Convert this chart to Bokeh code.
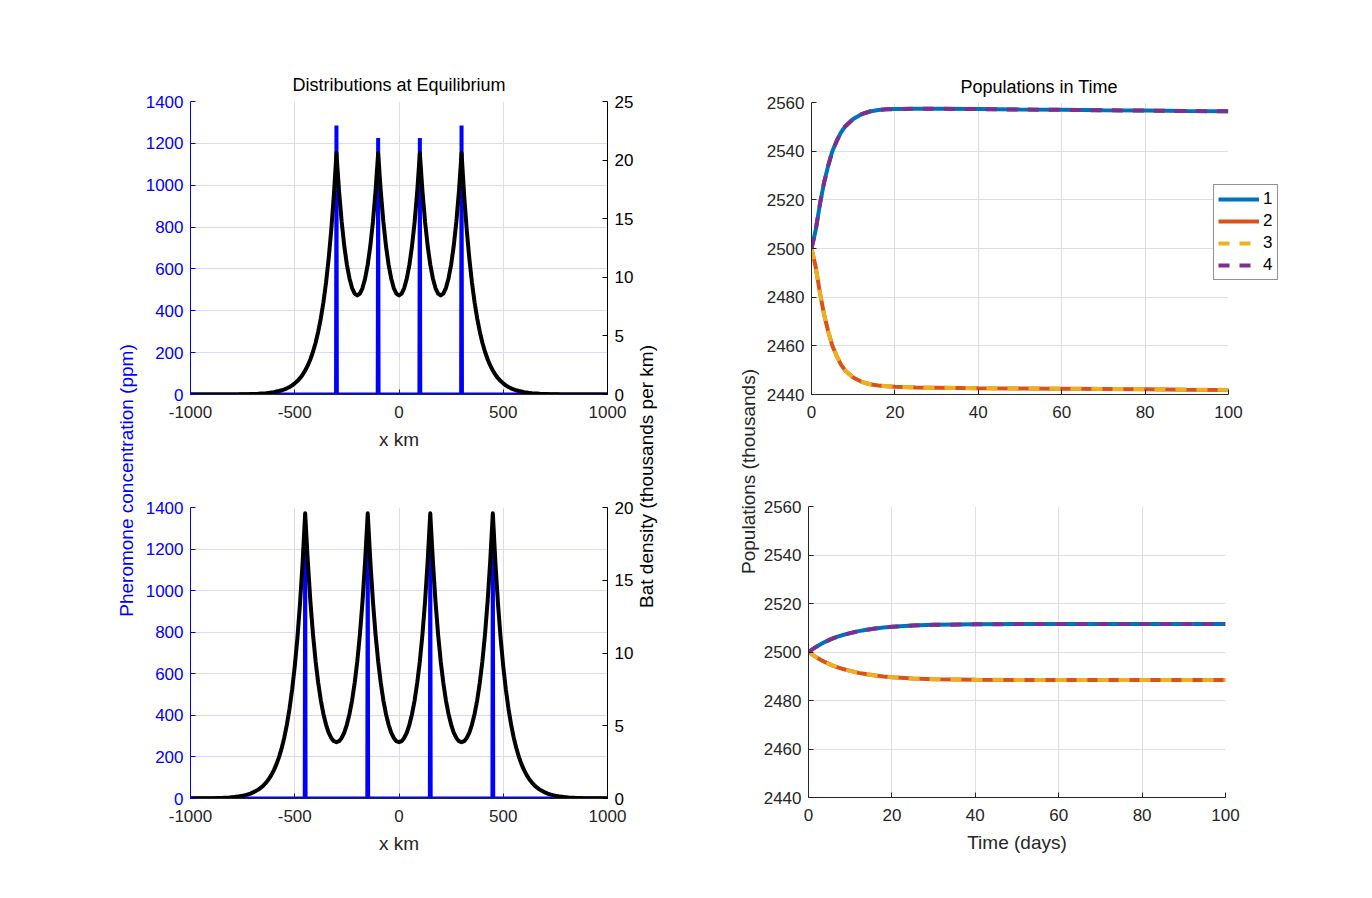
import math
from bokeh.plotting import figure
from bokeh.models import Range1d, LinearAxis, FixedTicker, Label, Legend
from bokeh.layouts import row, column
from bokeh.embed import file_html
from bokeh.resources import INLINE

# ---------------- data ----------------
bat_x = [i * 12.5 for i in range(-80, 81)]

bat_top = [0.00, 0.00, 0.00, 0.00, 0.00, 0.00, 0.00, 0.00, 0.00, 0.00, 0.00, 0.00, 0.00,
           0.01, 0.01, 0.01, 0.01, 0.01, 0.01, 0.02, 0.02, 0.02, 0.03, 0.04, 0.04, 0.05, 0.06,
           0.08, 0.09, 0.11, 0.14, 0.17, 0.20, 0.25, 0.30, 0.36, 0.44, 0.53, 0.64, 0.78, 0.95,
           1.15, 1.39, 1.69, 2.05, 2.48, 3.01, 3.65, 4.42, 5.36, 6.49, 7.87, 9.54, 11.57, 14.02,
           16.99, 20.6,
           17.35, 14.74, 12.68, 11.08, 9.90, 9.08, 8.61, 8.45, 8.61, 9.08, 9.90, 11.08, 12.68,
           14.74, 17.35, 20.6,
           17.35, 14.74, 12.68, 11.08, 9.90, 9.08, 8.61, 8.45,
           8.61, 9.08, 9.90, 11.08, 12.68, 14.74, 17.35, 20.6,
           17.35, 14.74, 12.68, 11.08, 9.90, 9.08, 8.61, 8.45, 8.61, 9.08, 9.90, 11.08, 12.68,
           14.74, 17.35, 20.6,
           16.99, 14.02, 11.57, 9.54, 7.87, 6.49, 5.36, 4.42, 3.65, 3.01, 2.48, 2.05, 1.69, 1.39,
           1.15, 0.95, 0.78, 0.64, 0.53, 0.44, 0.36, 0.30, 0.25, 0.20, 0.17, 0.14, 0.11, 0.09,
           0.08, 0.06, 0.05, 0.04, 0.04, 0.03, 0.02, 0.02, 0.02, 0.01, 0.01, 0.01, 0.01, 0.01,
           0.01,
           0.00, 0.00, 0.00, 0.00, 0.00, 0.00, 0.00, 0.00, 0.00, 0.00, 0.00, 0.00, 0.00]

bat_bottom = [0.00, 0.01, 0.01, 0.01, 0.01, 0.01, 0.01, 0.02, 0.02, 0.02, 0.03, 0.03, 0.04,
              0.05, 0.06, 0.07, 0.09, 0.11, 0.13, 0.16, 0.19, 0.23, 0.28, 0.34, 0.42, 0.51,
              0.61, 0.74, 0.90, 1.09, 1.32, 1.61, 1.95, 2.36, 2.86, 3.47, 4.20, 5.09, 6.18,
              7.49, 9.08, 11.00, 13.34, 16.17, 19.6,
              16.31, 13.55, 11.28, 9.44, 7.95, 6.75, 5.81, 5.08, 4.53, 4.16, 3.94, 3.87, 3.94,
              4.16, 4.53, 5.08, 5.81, 6.75, 7.95, 9.44, 11.28, 13.55, 16.31, 19.6,
              16.31, 13.55, 11.28, 9.44, 7.95, 6.75, 5.81, 5.08, 4.53, 4.16, 3.94, 3.87,
              3.94, 4.16, 4.53, 5.08, 5.81, 6.75, 7.95, 9.44, 11.28, 13.55, 16.31, 19.6,
              16.31, 13.55, 11.28, 9.44, 7.95, 6.75, 5.81, 5.08, 4.53, 4.16, 3.94, 3.87, 3.94,
              4.16, 4.53, 5.08, 5.81, 6.75, 7.95, 9.44, 11.28, 13.55, 16.31, 19.6,
              16.17, 13.34, 11.00, 9.08, 7.49, 6.18, 5.09, 4.20, 3.47, 2.86, 2.36, 1.95, 1.61,
              1.32, 1.09, 0.90, 0.74, 0.61, 0.51, 0.42, 0.34, 0.28, 0.23, 0.19, 0.16, 0.13,
              0.11, 0.09, 0.07, 0.06, 0.05, 0.04, 0.03, 0.03, 0.02, 0.02, 0.02, 0.01, 0.01,
              0.01, 0.01, 0.01, 0.01, 0.00]

pher_top_loc = [-300, -100, 100, 300]
pher_top_val = [1285, 1225, 1225, 1285]
pher_bottom_loc = [-450, -150, 150, 450]
pher_bottom_val = [1300, 1300, 1300, 1300]

t_days = [0, 1, 2, 3, 4, 5, 6, 7, 8, 10, 12, 14, 16, 18, 20, 25, 30, 40, 50, 60, 70, 80, 90, 100]

pop1_top = [2500, 2507.5, 2518, 2527, 2534, 2540, 2544, 2547.5, 2550, 2553.2, 2555.2, 2556.3,
            2556.9, 2557.2, 2557.3, 2557.4, 2557.4, 2557.3, 2557.1, 2557.0, 2556.8, 2556.7, 2556.5, 2556.4]
pop2_top = [2500, 2492.5, 2482, 2473, 2466, 2460, 2456, 2452.5, 2450, 2447, 2445.2, 2444.2,
            2443.7, 2443.4, 2443.2, 2442.9, 2442.8, 2442.6, 2442.5, 2442.4, 2442.3, 2442.2, 2442.0, 2441.9]
pop3_top = [2500, 2492.5, 2482, 2473, 2466, 2460, 2456, 2452.5, 2450, 2447, 2445.2, 2444.2,
            2443.7, 2443.4, 2443.2, 2442.9, 2442.8, 2442.6, 2442.5, 2442.4, 2442.3, 2442.2, 2442.0, 2441.9]
pop4_top = [2500, 2507.5, 2518, 2527, 2534, 2540, 2544, 2547.5, 2550, 2553.2, 2555.2, 2556.3,
            2556.9, 2557.2, 2557.3, 2557.4, 2557.4, 2557.3, 2557.1, 2557.0, 2556.8, 2556.7, 2556.5, 2556.4]

pop1_bot = [2500, 2501.2, 2502.3, 2503.3, 2504.2, 2505.0, 2505.7, 2506.3, 2506.9, 2507.8, 2508.6, 2509.2,
            2509.7, 2510.1, 2510.4, 2510.9, 2511.2, 2511.4, 2511.5, 2511.5, 2511.5, 2511.5, 2511.5, 2511.5]
pop2_bot = [2500, 2498.8, 2497.7, 2496.7, 2495.8, 2495.0, 2494.3, 2493.7, 2493.1, 2492.2, 2491.4, 2490.8,
            2490.3, 2489.9, 2489.6, 2489.1, 2488.8, 2488.6, 2488.5, 2488.5, 2488.5, 2488.5, 2488.5, 2488.5]
pop3_bot = [2500, 2498.8, 2497.7, 2496.7, 2495.8, 2495.0, 2494.3, 2493.7, 2493.1, 2492.2, 2491.4, 2490.8,
            2490.3, 2489.9, 2489.6, 2489.1, 2488.8, 2488.6, 2488.5, 2488.5, 2488.5, 2488.5, 2488.5, 2488.5]
pop4_bot = [2500, 2501.2, 2502.3, 2503.3, 2504.2, 2505.0, 2505.7, 2506.3, 2506.9, 2507.8, 2508.6, 2509.2,
            2509.7, 2510.1, 2510.4, 2510.9, 2511.2, 2511.4, 2511.5, 2511.5, 2511.5, 2511.5, 2511.5, 2511.5]

series_names = ["1", "2", "3", "4"]
series_colors = ["#0072BD", "#D95319", "#EDB120", "#7E2F8E"]

x_ticks = [-1000, -500, 0, 500, 1000]
x_tick_text = {-1000: "-1000", -500: "-500", 0: "0", 500: "500", 1000: "1000"}
pher_ticks = [0, 200, 400, 600, 800, 1000, 1200, 1400]
bat_ticks_top = [0, 5, 10, 15, 20, 25]
bat_ticks_bottom = [0, 5, 10, 15, 20]
t_ticks = [0, 20, 40, 60, 80, 100]
pop_ticks = [2440, 2460, 2480, 2500, 2520, 2540, 2560]

assert len(bat_top) == len(bat_x) and len(bat_bottom) == len(bat_x)

# ---------------- style ----------------
FONT = "Liberation Sans"
AX = "#262626"
BLUE = "#0000FF"


def style_axis(ax, color, ticks, standoff=7):
    ax.ticker = FixedTicker(ticks=ticks)
    ax.axis_line_color = color
    ax.axis_line_width = 1
    ax.major_tick_line_color = color
    ax.major_label_text_color = color
    ax.major_tick_in = 5
    ax.major_tick_out = 0
    ax.minor_tick_line_color = None
    ax.major_label_text_font = FONT
    ax.major_label_text_font_size = "17px"
    ax.major_label_standoff = standoff
    ax.axis_label_text_font = FONT
    ax.axis_label_text_font_size = "19px"
    ax.axis_label_text_font_style = "normal"
    ax.axis_label_text_color = AX
    ax.axis_label_standoff = 8


def style_title(p, text, standoff):
    p.title.text = text
    p.title.text_font = FONT
    p.title.text_font_size = "18px"
    p.title.text_font_style = "normal"
    p.title.text_color = "#000000"
    p.title.standoff = standoff


def spike_line(locs, vals):
    xs, ys = [-1000], [0]
    for p, v in zip(locs, vals):
        xs += [p - 2, p, p + 2]
        ys += [0, v, 0]
    xs.append(1000)
    ys.append(0)
    return xs, ys


def dist_plot(fh, top, bottom, bat, locs, vals, bat_max, bat_ticks, title=None):
    p = figure(frame_width=417, frame_height=fh, x_range=Range1d(-1000, 1000), y_range=Range1d(0, 1400),
               output_backend="svg", toolbar_location=None,
               min_border_left=50, min_border_right=30, min_border_top=top, min_border_bottom=bottom)
    p.outline_line_color = None
    p.extra_y_ranges = {"bat": Range1d(0, bat_max)}
    rax = LinearAxis(y_range_name="bat")
    p.add_layout(rax, "right")
    style_axis(p.xaxis[0], AX, x_ticks, standoff=11)
    p.xaxis[0].major_label_overrides = x_tick_text
    style_axis(p.yaxis[0], BLUE, pher_ticks)
    style_axis(rax, "#000000", bat_ticks)
    p.xaxis[0].axis_label = "x km"
    p.xgrid.ticker = FixedTicker(ticks=x_ticks)
    p.ygrid.ticker = FixedTicker(ticks=pher_ticks)
    p.xgrid.grid_line_color = "#dedede"
    p.ygrid.grid_line_color = "#d9d9ff"
    xs, ys = spike_line(locs, vals)
    p.line(xs, ys, color=BLUE, line_width=4)
    p.line(bat_x, bat, color="#000000", line_width=4, y_range_name="bat", line_join="round")
    if title:
        style_title(p, title, 14)
        p.title.align = "center"
    return p


def pop_plot(fh, left, right, top, bottom, series, xlabel=None, title=None, legend=False):
    p = figure(frame_width=417, frame_height=fh, x_range=Range1d(0, 100), y_range=Range1d(2440, 2560),
               output_backend="svg", toolbar_location=None,
               min_border_left=left, min_border_right=right, min_border_top=top, min_border_bottom=bottom)
    p.outline_line_color = None
    style_axis(p.xaxis[0], AX, t_ticks, standoff=11)
    style_axis(p.yaxis[0], AX, pop_ticks)
    if xlabel:
        p.xaxis[0].axis_label = xlabel
    p.xgrid.ticker = FixedTicker(ticks=t_ticks)
    p.ygrid.ticker = FixedTicker(ticks=pop_ticks)
    p.xgrid.grid_line_color = "#dfdfdf"
    p.ygrid.grid_line_color = "#dfdfdf"
    rs = []
    dashes = ["solid", "solid", "11 10", "11 10"]
    for vals, c, d in zip(series, series_colors, dashes):
        rs.append(p.line(t_days, vals, color=c, line_width=4, line_dash=d))
    if title:
        style_title(p, title, 12)
        p.title.align = "left"
        p.title.offset = 149
    if legend:
        lg = Legend(items=[(n, [r]) for n, r in zip(series_names, rs)], location=(-15, 114))
        lg.border_line_color = "#262626"
        lg.border_line_width = 1
        lg.background_fill_color = "white"
        lg.background_fill_alpha = 1
        lg.label_text_font = FONT
        lg.label_text_font_size = "17px"
        lg.label_text_color = "#000000"
        lg.glyph_width = 41
        lg.glyph_height = 16
        lg.label_height = 16
        lg.label_width = 10
        lg.spacing = 2
        lg.padding = 4
        lg.margin = 0
        lg.label_standoff = 4
        p.add_layout(lg, "right")
    return p


def strip(width, labels):
    s = figure(width=width, height=890, x_range=Range1d(0, width), y_range=Range1d(0, 890),
               output_backend="svg", toolbar_location=None, min_border=0,
               x_axis_location=None, y_axis_location=None)
    s.outline_line_color = None
    s.xgrid.visible = False
    s.ygrid.visible = False
    for text, x, y, color in labels:
        s.add_layout(Label(x=x, y=y, text=text, angle=math.pi / 2, text_align="center",
                           text_baseline="middle", text_color=color, text_font=FONT,
                           text_font_size="19px"))
    return s


tl = dist_plot(293, 101, 61, bat_top, pher_top_loc, pher_top_val, 25, bat_ticks_top,
               title="Distributions at Equilibrium")
bl = dist_plot(291, 52, 92, bat_bottom, pher_bottom_loc, pher_bottom_val, 20, bat_ticks_bottom)

tr = pop_plot(292, 51, 136, 102, 61, [pop1_top, pop2_top, pop3_top, pop4_top],
              title="Populations in Time", legend=True)
br = pop_plot(291, 47, 140, 51, 93, [pop1_bot, pop2_bot, pop3_bot, pop4_bot], xlabel="Time (days)")

left_strip = strip(140, [("Pheromone concentration (ppm)", 126, 410, BLUE)])
mid_strip = strip(123, [("Bat density (thousands per km)", 8.5, 414, "#000000"),
                        ("Populations (thousands)", 111, 419, AX)])

layout = row(left_strip, column(tl, bl), mid_strip, column(tr, row(br)))

open("out.html", "w").write(file_html(layout, INLINE))
